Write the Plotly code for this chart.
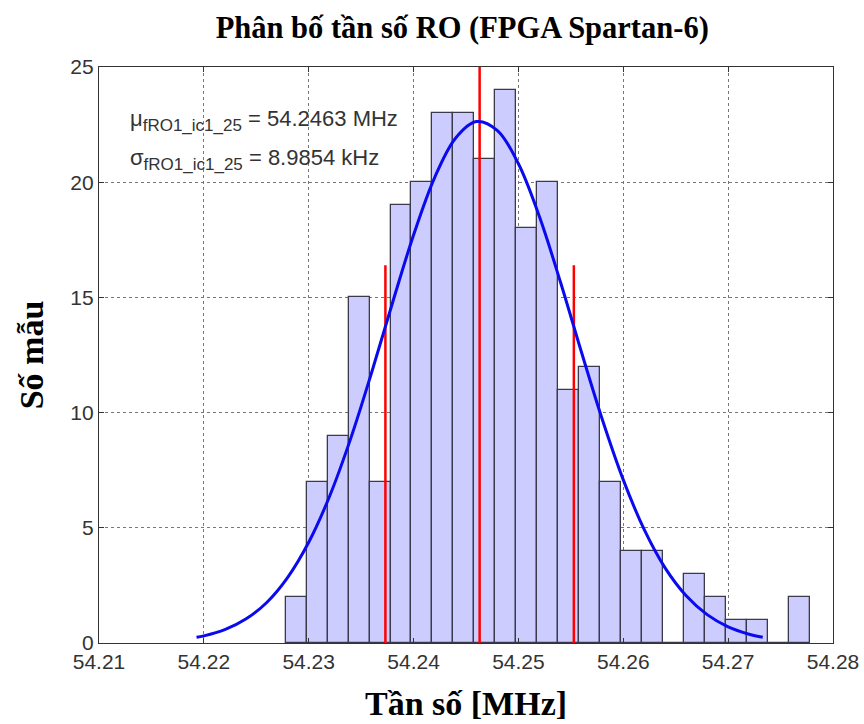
import plotly.graph_objects as go

# Histogram data (bin width 0.002 MHz)
bin_start = 54.2278
bin_width = 0.002
counts = [2, 7, 9, 15, 7, 19, 20, 23, 23, 21, 24, 18, 20, 11, 12, 7, 4, 4, 0, 3, 2, 1, 1, 0, 2]

# Fitted curve points
curve_x = [54.2193, 54.220, 54.222, 54.224, 54.226, 54.228, 54.230, 54.232, 54.234, 54.236,
           54.238, 54.240, 54.242, 54.244, 54.246, 54.248, 54.250, 54.252, 54.254, 54.256,
           54.258, 54.260, 54.262, 54.264, 54.266, 54.268, 54.270, 54.272, 54.2733]
curve_y = [0.25, 0.31, 0.58, 1.04, 1.76, 2.85, 4.37, 6.38, 8.87, 11.74,
           14.78, 17.71, 20.19, 21.91, 22.63, 22.24, 20.80, 18.51, 15.68, 12.64,
           9.70, 7.08, 4.92, 3.25, 2.05, 1.23, 0.70, 0.38, 0.25]

mu = 54.2463
sigma_mhz = 0.0089854
red_side_height = 16.4
red_center_height = 25

x_ticks = [54.21, 54.22, 54.23, 54.24, 54.25, 54.26, 54.27, 54.28]
y_ticks = [0, 5, 10, 15, 20, 25]

centers = [bin_start + bin_width * (i + 0.5) for i in range(len(counts))]

fig = go.Figure()
fig.add_trace(go.Bar(
    x=centers, y=counts, width=[bin_width] * len(counts),
    marker=dict(color="#ccccff", line=dict(color="#3a3a4a", width=1.3)),
    showlegend=False, hoverinfo="skip"))

fig.add_trace(go.Scatter(
    x=[mu, mu], y=[0, red_center_height], mode="lines",
    line=dict(color="#ff0000", width=2.5), showlegend=False))
for xv in [mu - sigma_mhz, mu + sigma_mhz]:
    fig.add_trace(go.Scatter(
        x=[xv, xv], y=[0, red_side_height], mode="lines",
        line=dict(color="#ff0000", width=2.5), showlegend=False))

fig.add_trace(go.Scatter(
    x=curve_x, y=curve_y, mode="lines", line_shape="spline",
    line=dict(color="#0a0aee", width=3), showlegend=False))

axis_common = dict(
    showline=True, linecolor="#333333", linewidth=1.2, mirror="ticks",
    ticks="inside", ticklen=5, tickcolor="#333333",
    showgrid=True, gridcolor="#777777", griddash="dot", gridwidth=1,
    zeroline=False, automargin=False,
    tickfont=dict(family="Liberation Sans, Arial", size=21, color="#333333"),
)

title_font = dict(family="Liberation Serif, Times New Roman", size=34, color="black")

fig.update_xaxes(range=[54.21, 54.28], tickvals=x_ticks,
                 ticktext=[f"{v:.2f}" for v in x_ticks],
                 title=dict(text="<b>Tần số [MHz]</b>", font=title_font, standoff=18),
                 **axis_common)
fig.update_yaxes(range=[0, 25], tickvals=y_ticks,
                 title=dict(text="<b>Số mẫu</b>", font=title_font, standoff=16),
                 **axis_common)

ann_font = dict(family="Liberation Sans, Arial", size=22, color="#333333")
sub = '<sub><span style="font-size:17px">fRO1_ic1_25</span></sub>'
fig.add_annotation(x=0.04, y=0.907, xref="paper", yref="paper", xanchor="left", yanchor="middle",
                   text="μ" + sub + " = 54.2463 MHz", showarrow=False, font=ann_font)
fig.add_annotation(x=0.04, y=0.840, xref="paper", yref="paper", xanchor="left", yanchor="middle",
                   text="σ" + sub + " = 8.9854 kHz", showarrow=False, font=ann_font)

fig.update_layout(
    width=864, height=724,
    margin=dict(l=99, r=31, t=67, b=81),
    paper_bgcolor="white", plot_bgcolor="white",
    bargap=0,
    title=dict(text="<b>Phân bố tần số RO (FPGA Spartan-6)</b>", x=0.535, xanchor="center",
               y=0.962, yanchor="middle",
               font=dict(family="Liberation Serif, Times New Roman", size=30.5, color="black")),
)

fig.write_html("out.html")
